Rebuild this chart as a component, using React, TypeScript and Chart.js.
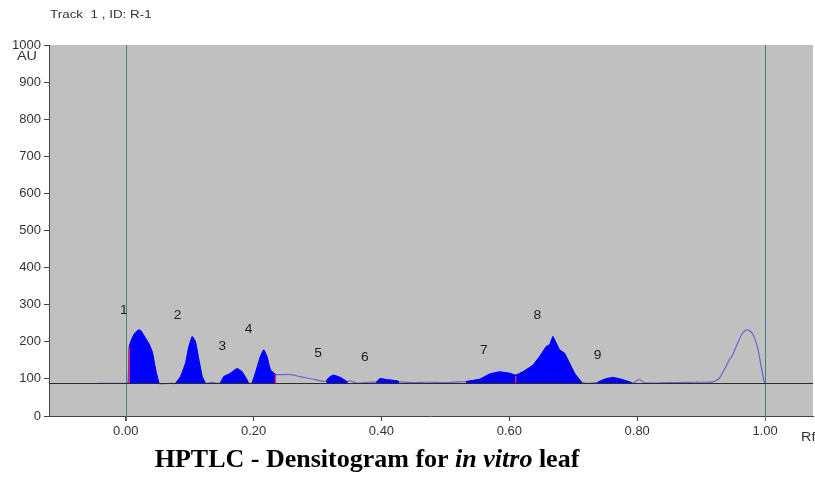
import React, { useEffect, useRef } from "react";
import { Chart, registerables } from "chart.js";

Chart.register(...registerables);

const titleText = "Track  1 , ID: R-1";
const xTicks = [0, 0.2, 0.4, 0.6, 0.8, 1.0];
const yTicks = [0, 100, 200, 300, 400, 500, 600, 700, 800, 900, 1000];
const baselineAU = 88;

const curveRf = [
  -0.045, 0.0, 0.0035, 0.0055, 0.0078, 0.013, 0.018, 0.0208, 0.024, 0.0286, 0.0364, 0.0416, 0.0468, 0.052,
  0.06, 0.07, 0.078, 0.0858, 0.0936, 0.0988, 0.104, 0.109, 0.1144, 0.1196, 0.1248, 0.135, 0.142, 0.148,
  0.1534, 0.1638, 0.1742, 0.182, 0.1898, 0.1924, 0.1976, 0.2028, 0.2106, 0.2158, 0.221, 0.2262, 0.234,
  0.2548, 0.2626, 0.273, 0.2938, 0.312, 0.3198, 0.325, 0.3354, 0.3458, 0.351, 0.3614, 0.38, 0.3926,
  0.3978, 0.4082, 0.4238, 0.429, 0.45, 0.47, 0.5, 0.52, 0.533, 0.5538, 0.5694, 0.585, 0.6006, 0.61,
  0.6214, 0.637, 0.6474, 0.6578, 0.663, 0.6682, 0.6734, 0.6786, 0.6864, 0.6942, 0.702, 0.7124, 0.7203,
  0.73, 0.7384, 0.7488, 0.7618, 0.7748, 0.7878, 0.793, 0.8034, 0.81, 0.83, 0.86, 0.89, 0.918, 0.928,
  0.936, 0.944, 0.949, 0.957, 0.9646, 0.9724, 0.98, 0.988, 0.993, 0.998, 1.0,
];
const curveAU = [
  88, 88, 90, 185, 200, 220, 229, 232, 229, 216, 194, 172, 124, 88,
  87, 88, 88, 106, 142, 187, 214, 201, 151, 106, 88, 91, 88, 89,
  106, 115, 128, 119, 97, 88, 89, 115, 160, 178, 160, 124, 112,
  112, 110, 106, 99, 93, 106, 110, 104, 93, 95, 89, 91, 92,
  101, 98, 95, 92, 90, 91, 90, 92, 93, 99, 113, 119, 115, 110,
  119, 137, 160, 187, 192, 214, 196, 178, 169, 142, 115, 92, 88,
  89, 91, 99, 104, 99, 92, 88, 99, 90, 89, 90, 91, 92, 101,
  124, 151, 164, 196, 223, 233, 223, 187, 142, 97, 88,
];

const peakStart = [0.0055, 0.078, 0.148, 0.1976, 0.3146, 0.3926, 0.533, 0.61, 0.7384];
const peakEnd = [0.052, 0.1248, 0.1924, 0.234, 0.3458, 0.4264, 0.61, 0.7124, 0.793];

const labelText = ["1", "2", "3", "4", "5", "6", "7", "8", "9"];
const labelRf = [-0.003, 0.081, 0.151, 0.192, 0.301, 0.374, 0.56, 0.644, 0.738];
const labelAU = [283, 270, 186, 232, 167, 156, 175, 270, 162];

const markRf = [0.0055, 0.234, 0.61];
const markTop = [185, 112, 108];

function interp(x: number): number {
  for (let i = 0; i < curveRf.length - 1; i++) {
    if (x >= curveRf[i] && x <= curveRf[i + 1]) {
      const t = (x - curveRf[i]) / (curveRf[i + 1] - curveRf[i] || 1);
      return curveAU[i] + t * (curveAU[i + 1] - curveAU[i]);
    }
  }
  return baselineAU;
}

export default function App() {
  const ref = useRef<HTMLCanvasElement | null>(null);
  useEffect(() => {
    if (!ref.current) return;
    const font = "'Liberation Sans', Arial, sans-serif";
    const peakSets = peakStart.map((s, i) => {
      const e = peakEnd[i];
      const pts: { x: number; y: number }[] = [{ x: s, y: baselineAU }, { x: s, y: interp(s) }];
      curveRf.forEach((x, j) => {
        if (x > s && x < e) pts.push({ x, y: curveAU[j] });
      });
      pts.push({ x: e, y: interp(e) }, { x: e, y: baselineAU });
      return {
        type: "line" as const,
        data: pts,
        borderColor: "#0000ff",
        borderWidth: 1,
        backgroundColor: "#0000ff",
        pointRadius: 0,
        tension: 0,
        fill: { value: baselineAU },
        order: 1,
      };
    });
    const markSets = markRf.map((x, i) => ({
      type: "line" as const,
      data: [{ x, y: baselineAU }, { x, y: markTop[i] }],
      borderColor: "#e0206a",
      borderWidth: 1.5,
      pointRadius: 0,
      fill: false,
      order: 0,
    }));
    const curveSet = {
      type: "line" as const,
      data: curveRf.map((x, i) => ({ x, y: curveAU[i] })),
      borderColor: "#6464cc",
      borderWidth: 1.2,
      pointRadius: 0,
      tension: 0.2,
      fill: false,
      order: 2,
    };

    const stretchText = (ctx: CanvasRenderingContext2D, t: string, x: number, y: number, sx: number) => {
      ctx.save();
      ctx.translate(x, y);
      ctx.scale(sx, 1);
      ctx.fillText(t, 0, 0);
      ctx.restore();
    };

    const decor = {
      id: "decor",
      beforeDraw(chart: any) {
        const { ctx, chartArea: a } = chart;
        ctx.save();
        ctx.fillStyle = "#c0c0c0";
        ctx.fillRect(a.left, a.top, a.right - a.left, a.bottom - a.top);
        ctx.restore();
      },
      beforeDatasetsDraw(chart: any) {
        const { ctx, chartArea: a, scales } = chart;
        ctx.save();
        ctx.strokeStyle = "#52797f";
        ctx.lineWidth = 1;
        [0, 1].forEach((v) => {
          const px = Math.round(scales.x.getPixelForValue(v)) + 0.5;
          ctx.beginPath();
          ctx.moveTo(px, a.top);
          ctx.lineTo(px, a.bottom + 5);
          ctx.stroke();
        });
        ctx.restore();
      },
      afterDatasetsDraw(chart: any) {
        const { ctx, chartArea: a, scales } = chart;
        ctx.save();
        const by = Math.round(scales.y.getPixelForValue(baselineAU)) + 0.5;
        ctx.strokeStyle = "#2b2b2b";
        ctx.lineWidth = 1;
        ctx.beginPath();
        ctx.moveTo(a.left, by);
        ctx.lineTo(a.right, by);
        ctx.stroke();
        ctx.fillStyle = "#1e1e1e";
        ctx.font = `12px ${font}`;
        ctx.textAlign = "center";
        ctx.textBaseline = "middle";
        labelText.forEach((t, i) => {
          stretchText(ctx, t, scales.x.getPixelForValue(labelRf[i]), scales.y.getPixelForValue(labelAU[i]), 1.15);
        });
        // axis annotations
        ctx.fillStyle = "#333";
        ctx.font = `12px ${font}`;
        stretchText(ctx, "AU", 27, 57, 1.2);
        ctx.textAlign = "left";
        stretchText(ctx, "Rf", 801, 438, 1.2);
        ctx.font = `11px ${font}`;
        stretchText(ctx, titleText, 50, 15, 1.22);
        // caption
        const serif = "'Liberation Serif', 'Times New Roman', serif";
        const parts = [
          { t: "HPTLC - Densitogram for ", it: false },
          { t: "in vitro", it: true },
          { t: " leaf", it: false },
        ];
        const size = 26;
        let total = 0;
        parts.forEach((p) => {
          ctx.font = `${p.it ? "italic " : ""}bold ${size}px ${serif}`;
          total += ctx.measureText(p.t).width;
        });
        let x = 367 - total / 2;
        ctx.fillStyle = "#000";
        ctx.textBaseline = "alphabetic";
        parts.forEach((p) => {
          ctx.font = `${p.it ? "italic " : ""}bold ${size}px ${serif}`;
          ctx.fillText(p.t, x, 467);
          x += ctx.measureText(p.t).width;
        });
        ctx.restore();
      },
    };

    const chart = new Chart(ref.current, {
      type: "line",
      data: { datasets: [...markSets, ...peakSets, curveSet] as any },
      options: {
        animation: false,
        responsive: false,
        devicePixelRatio: 1,
        layout: { padding: { top: 45, right: 2, left: 0, bottom: 0 } },
        plugins: { legend: { display: false }, tooltip: { enabled: false } },
        scales: {
          x: {
            type: "linear",
            min: -0.12,
            max: 1.075,
            afterBuildTicks: (s: any) => {
              s.ticks = xTicks.map((v) => ({ value: v }));
            },
            afterFit: (s: any) => {
              s.height = 61;
            },
            ticks: {
              callback: (v: any) => Number(v).toFixed(2),
              font: { family: font, size: 13 },
              color: "#333",
              padding: 3,
              maxRotation: 0,
              autoSkip: false,
            },
            grid: { drawOnChartArea: false, tickLength: 5, color: "#444" },
            border: { color: "#444" },
          },
          y: {
            type: "linear",
            min: 0,
            max: 1000,
            afterBuildTicks: (s: any) => {
              s.ticks = yTicks.map((v) => ({ value: v }));
            },
            afterFit: (s: any) => {
              s.width = 49;
            },
            ticks: {
              callback: (v: any) => String(v),
              font: { family: font, size: 13 },
              color: "#333",
              padding: 3,
              autoSkip: false,
            },
            grid: { drawOnChartArea: false, tickLength: 5, color: "#444" },
            border: { color: "#444" },
          },
        },
      },
      plugins: [decor],
    });
    return () => chart.destroy();
  }, []);
  return (
    <div style={{ position: "absolute", left: 0, top: 0, width: 815, height: 477, background: "#fff" }}>
      <canvas ref={ref} width={815} height={477} style={{ width: 815, height: 477, display: "block" }} />
    </div>
  );
}
